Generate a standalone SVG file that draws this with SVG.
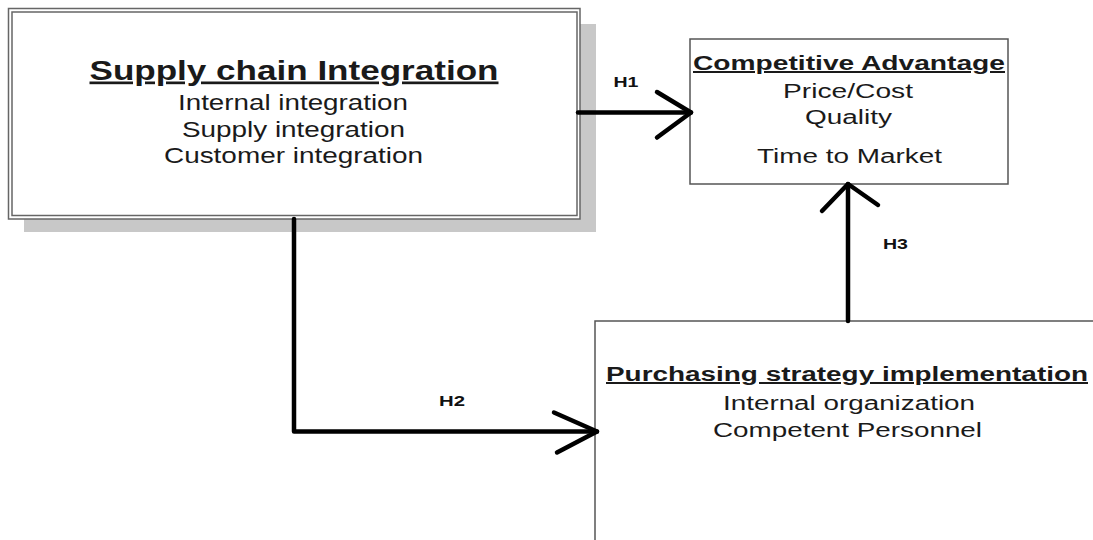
<svg xmlns="http://www.w3.org/2000/svg" width="1093" height="540" viewBox="0 0 1093 540">
<defs>
<style>
.t{font-family:"Liberation Sans",Arial,sans-serif;fill:#1a1a1a;text-anchor:middle}
.b{font-weight:bold}
.u{text-decoration:underline}
.box{fill:#fff;stroke:#555;stroke-width:1.5}
.dbl{fill:none;stroke:#666;stroke-width:1.5}
.c{fill:none;stroke:#000;stroke-width:4.5;stroke-linecap:round;stroke-linejoin:round}
.lbl{font-family:"Liberation Sans",Arial,sans-serif;font-weight:bold;font-size:14px;fill:#111;text-anchor:middle}
</style>
</defs>
<rect width="1093" height="540" fill="#fff"/>
<g id="node-sci">
<rect x="24" y="24" width="572" height="208" fill="#c8c8c8"/>
<rect x="8.5" y="8.5" width="571.5" height="210.5" fill="#fff" stroke="#666" stroke-width="1.5"/>
<rect x="12" y="12" width="565" height="203.5" class="dbl"/>
<text class="t b u" x="294" y="79.5" font-size="27" textLength="409" lengthAdjust="spacingAndGlyphs">Supply chain Integration</text>
<text class="t" x="293" y="110" font-size="22" textLength="230" lengthAdjust="spacingAndGlyphs">Internal integration</text>
<text class="t" x="293.5" y="137" font-size="22" textLength="223" lengthAdjust="spacingAndGlyphs">Supply integration</text>
<text class="t" x="293.5" y="163" font-size="22" textLength="259" lengthAdjust="spacingAndGlyphs">Customer integration</text>
</g>
<g id="node-ca">
<rect x="690" y="39" width="318" height="145" class="box"/>
<text class="t b u" x="849" y="70" font-size="20" textLength="312" lengthAdjust="spacingAndGlyphs">Competitive Advantage</text>
<text class="t" x="848" y="98" font-size="20" textLength="130" lengthAdjust="spacingAndGlyphs">Price/Cost</text>
<text class="t" x="848.5" y="124" font-size="20" textLength="87" lengthAdjust="spacingAndGlyphs">Quality</text>
<text class="t" x="849.5" y="163" font-size="20" textLength="185" lengthAdjust="spacingAndGlyphs">Time to Market</text>
</g>
<g id="node-psi">
<rect x="595" y="321" width="506" height="240" class="box"/>
<text class="t b u" x="847" y="381" font-size="20" textLength="482" lengthAdjust="spacingAndGlyphs">Purchasing strategy implementation</text>
<text class="t" x="849" y="410" font-size="20" textLength="252" lengthAdjust="spacingAndGlyphs">Internal organization</text>
<text class="t" x="847.5" y="437" font-size="20" textLength="269" lengthAdjust="spacingAndGlyphs">Competent Personnel</text>
</g>
<g id="connectors">
<path class="c" d="M578 112.5 L691 112.5"/>
<path class="c" d="M657 92 L691 112.5 L657 137.5"/>
<path class="c" d="M294 219 L294 431.5 L597 431.5"/>
<path class="c" d="M554 412.5 L597 431.5 L557 452.5"/>
<path class="c" d="M848 321 L848 184"/>
<path class="c" d="M822 211 L848 184 L878 205"/>
<text class="lbl" x="626" y="86.5" textLength="25" lengthAdjust="spacingAndGlyphs">H1</text>
<text class="lbl" x="452" y="406" textLength="26" lengthAdjust="spacingAndGlyphs">H2</text>
<text class="lbl" x="895.5" y="249" textLength="25" lengthAdjust="spacingAndGlyphs">H3</text>
</g>
</svg>
